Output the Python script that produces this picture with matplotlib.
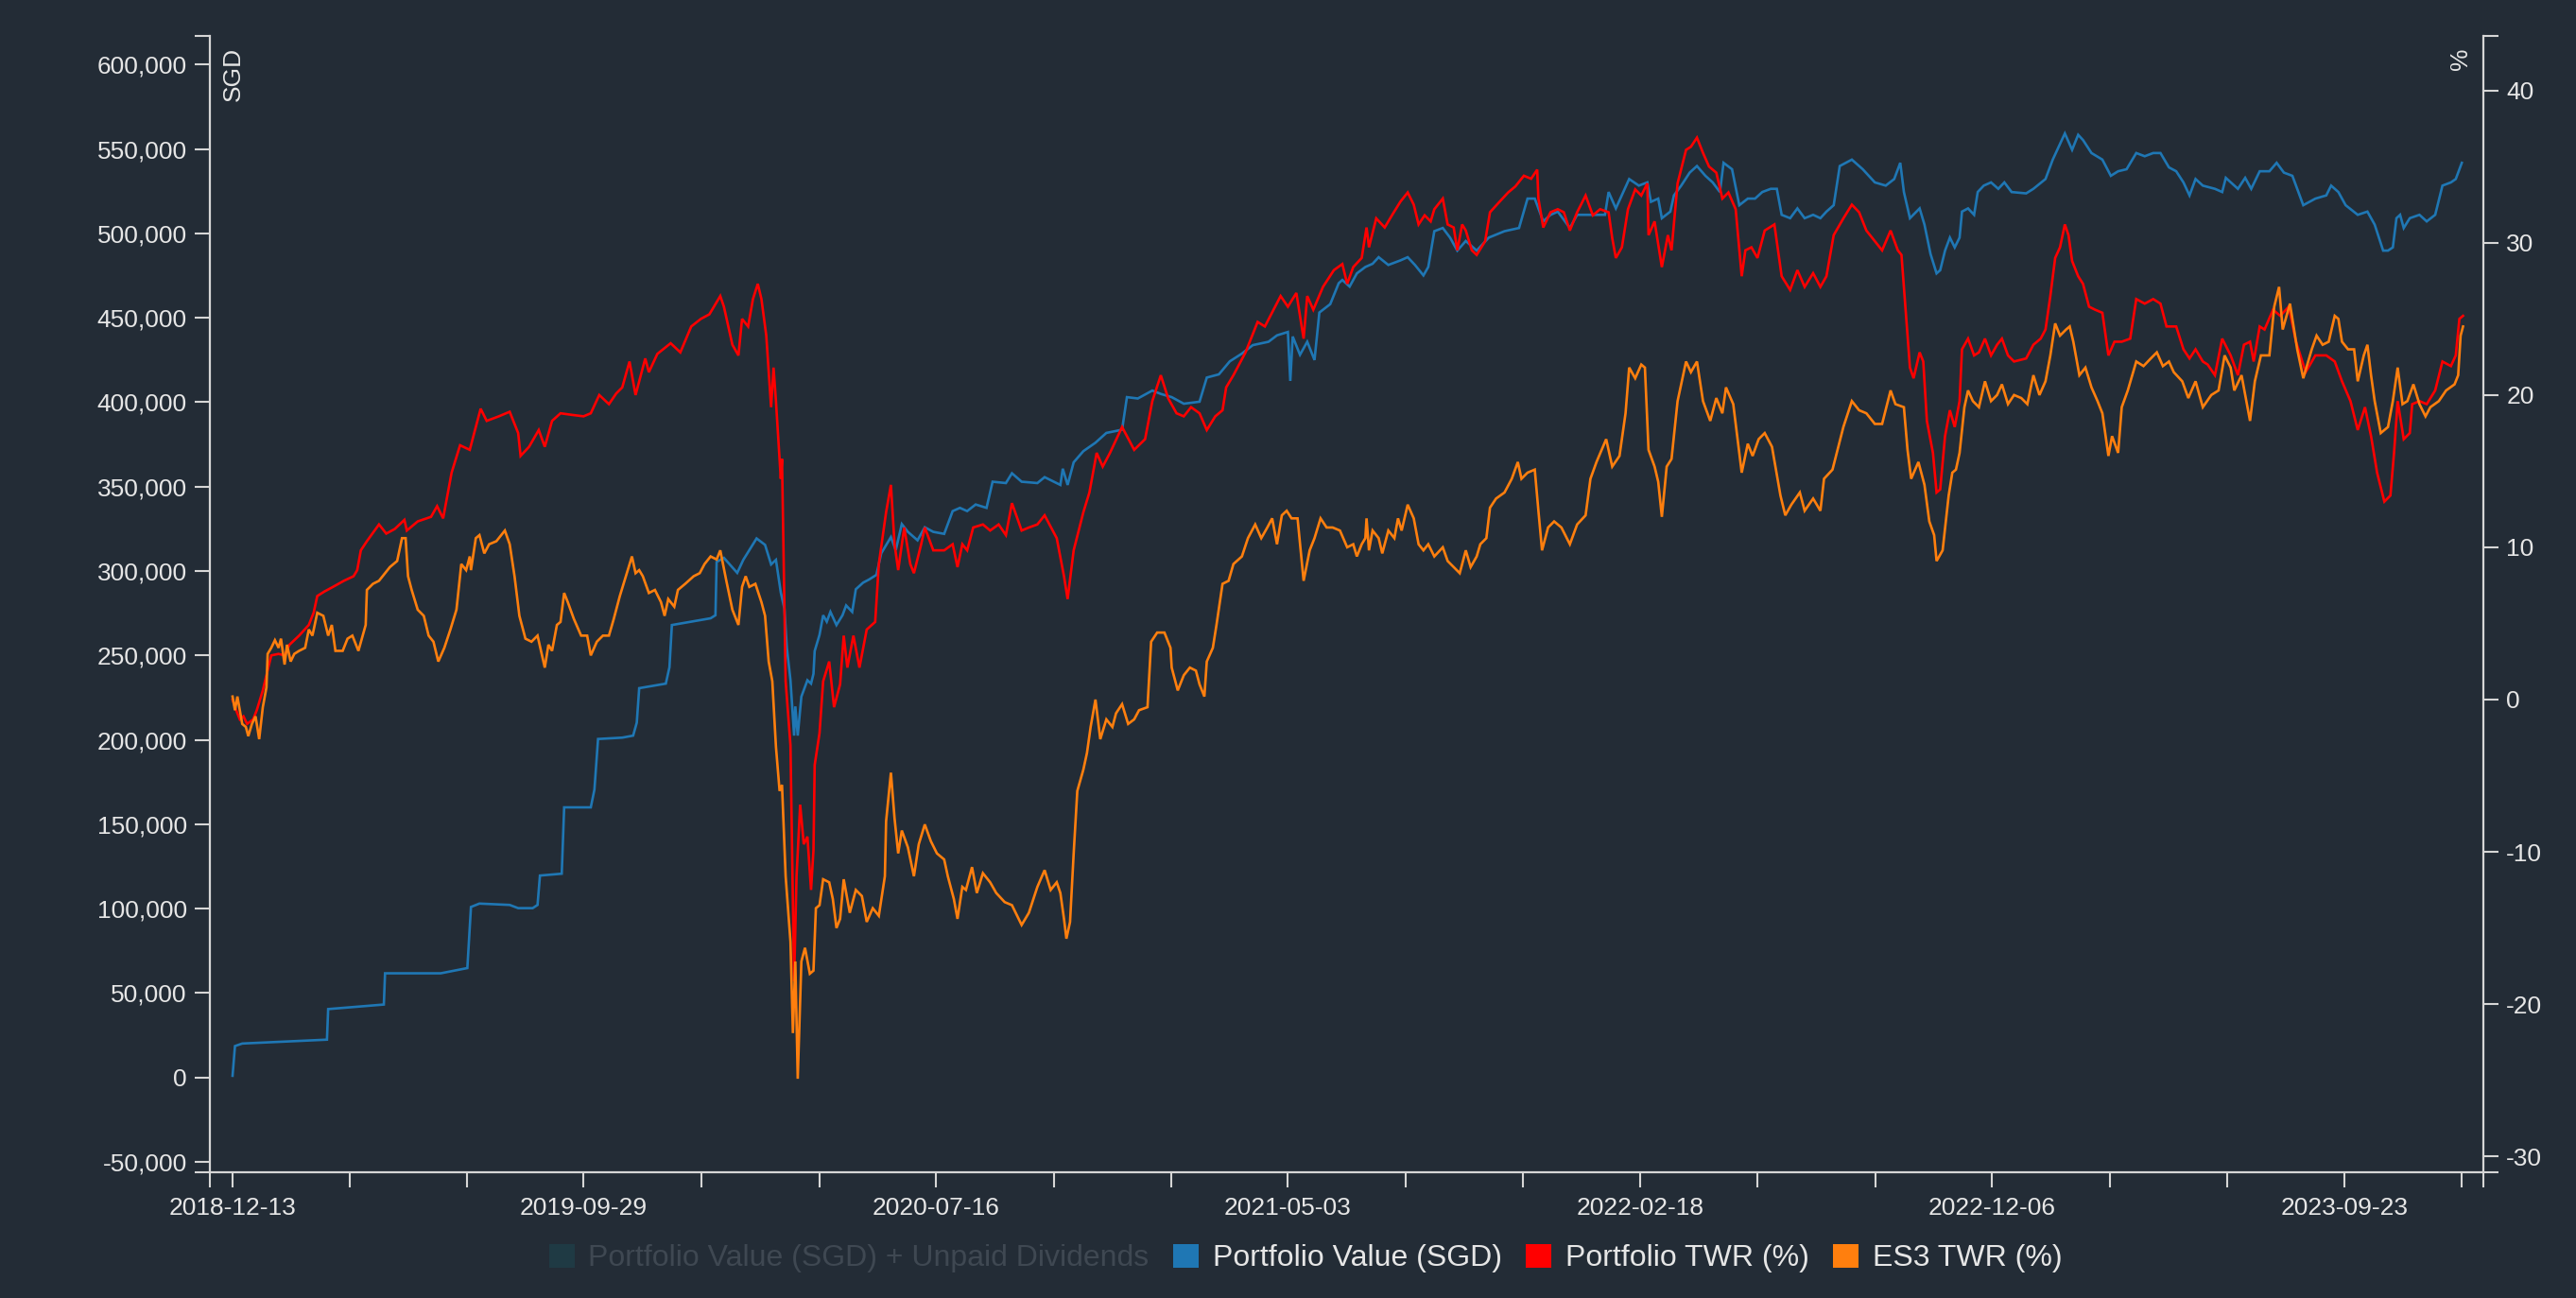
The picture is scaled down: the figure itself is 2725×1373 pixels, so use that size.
import numpy as np
import pandas as pd
import matplotlib
matplotlib.use("Agg")
import matplotlib.pyplot as plt
import matplotlib.ticker as mticker
from matplotlib.patches import Patch

plt.rcParams['font.family'] = ['Liberation Sans', 'DejaVu Sans']

start = pd.Timestamp('2018-12-13')

# Portfolio Value (SGD): days since start, value
value_days = [0, 2, 8, 78, 79, 125, 126, 172, 194, 197, 204, 229, 236, 248, 252, 254, 272, 274, 296, 299,
              302, 322, 331, 334, 336, 358, 361, 363, 395, 399, 400, 406, 417, 422, 427, 433, 440, 445, 449, 453,
              456, 458, 461, 464, 465, 467, 470, 475, 478, 480, 481, 485, 488, 491, 494, 499, 504, 507, 512, 515,
              521, 526, 532, 536, 544, 548, 553, 558, 566, 572, 579, 588, 595, 601, 607, 614, 623, 628, 639, 644,
              652, 665, 671, 684, 686, 690, 695, 703, 713, 722, 735, 739, 748, 760, 767, 776, 786, 799, 805, 815,
              824, 834, 843, 856, 863, 872, 874, 876, 882, 888, 894, 898, 907, 914, 917, 923, 929, 936, 942, 947,
              955, 965, 971, 977, 984, 988, 993, 1000, 1006, 1012, 1019, 1028, 1038, 1051, 1063, 1070, 1076, 1083, 1089, 1095,
              1105, 1111, 1121, 1134, 1137, 1143, 1154, 1162, 1169, 1172, 1178, 1181, 1188, 1191, 1197, 1204, 1210, 1217, 1223, 1229,
              1232, 1239, 1245, 1252, 1258, 1264, 1271, 1276, 1280, 1287, 1293, 1299, 1306, 1312, 1317, 1323, 1328, 1338, 1347, 1357,
              1366, 1373, 1378, 1381, 1386, 1394, 1398, 1403, 1408, 1411, 1415, 1419, 1423, 1427, 1429, 1434, 1439, 1442, 1447, 1453,
              1459, 1464, 1470, 1482, 1488, 1498, 1504, 1514, 1520, 1525, 1529, 1536, 1545, 1552, 1558, 1565, 1573, 1580, 1587, 1593,
              1600, 1606, 1612, 1617, 1622, 1628, 1638, 1644, 1647, 1654, 1657, 1663, 1668, 1675, 1683, 1689, 1695, 1702, 1711, 1721,
              1730, 1734, 1740, 1746, 1756, 1764, 1770, 1777, 1781, 1785, 1788, 1791, 1794, 1799, 1807, 1813, 1820, 1826, 1833, 1837,
              1839, 1842]
value_sgd = [1000, 18600, 20100, 22400, 40500, 43200, 61700, 61700, 64800, 101000, 103000, 102200, 100300, 100300, 102200, 119600, 120700, 160000, 160000, 170500,
             200500, 201300, 202500, 210200, 230600, 233300, 243000, 268000, 272000, 273800, 305400, 307800, 298900, 306600, 312400, 319300, 315500, 303900, 306600, 287300,
             277700, 254500, 235300, 202500, 219800, 202500, 225600, 235300, 233300, 239100, 252600, 262200, 273800, 270000, 275800, 268000, 273800, 279600, 275800, 289200,
             293100, 295000, 297700, 310500, 320100, 312400, 327800, 323200, 318200, 325900, 323200, 322000, 335500, 337400, 335500, 339400, 337400, 352900, 352100, 357900,
             352900, 352100, 355600, 351000, 360600, 351000, 364400, 371000, 376000, 381800, 383700, 403000, 402200, 406900, 404900, 403000, 399100, 400300, 414600, 416500,
             424200, 428800, 433800, 435800, 439600, 441600, 412600, 438900, 428100, 435800, 425000, 453100, 458100, 470500, 472400, 468500, 476300, 480100, 482000, 485900,
             481300, 484000, 485900, 481300, 475100, 480100, 501300, 503200, 497500, 489800, 495500, 489800, 497500, 501300, 503200, 520600, 520600, 507100, 511000, 512900,
             503200, 511000, 511000, 511000, 524500, 514800, 532200, 528300, 530200, 518700, 520600, 509000, 512900, 522500, 528300, 536000, 539900, 534100, 530200, 524500,
             541800, 538000, 516700, 520600, 520600, 524500, 526400, 526400, 511000, 509000, 514800, 509000, 511000, 509000, 512900, 516700, 539900, 543700, 538000, 530200,
             528300, 532200, 541800, 524500, 509000, 514800, 505200, 487800, 476300, 478200, 489800, 497500, 491700, 497500, 512900, 514800, 511000, 524500, 528300, 530200,
             526400, 530200, 524500, 523700, 526400, 532200, 543700, 559200, 549500, 558400, 555300, 547600, 543700, 534100, 536800, 538000, 547600, 545700, 547600, 547600,
             539100, 536800, 530200, 522500, 532200, 528300, 526400, 524500, 532900, 528300, 526400, 532900, 526400, 536800, 536800, 541800, 536000, 534100, 516700, 520600,
             522500, 528300, 524500, 516700, 511000, 512900, 505200, 489800, 489800, 491700, 509000, 511000, 503200, 509000, 511000, 507100, 511000, 528300, 530200, 532200,
             536000, 541800]

# Portfolio TWR (%)
twr_days = [0, 3, 6, 9, 12, 17, 20, 25, 28, 32, 38, 43, 47, 55, 63, 67, 70, 76, 83, 92,
            100, 103, 106, 111, 121, 127, 134, 142, 144, 153, 164, 169, 174, 177, 181, 188, 196, 201, 205, 210,
            220, 229, 236, 238, 245, 253, 258, 264, 271, 280, 290, 296, 303, 311, 317, 322, 328, 333, 341, 344,
            351, 362, 370, 379, 387, 394, 403, 406, 413, 418, 421, 426, 430, 434, 437, 441, 445, 447, 449, 453,
            454, 457, 461, 464, 466, 469, 472, 475, 478, 480, 481, 485, 488, 493, 497, 502, 505, 508, 513, 518,
            524, 531, 534, 540, 544, 547, 550, 555, 560, 563, 569, 572, 579, 588, 595, 599, 603, 607, 612, 620,
            626, 633, 639, 644, 652, 658, 665, 671, 681, 687, 690, 695, 703, 708, 714, 719, 725, 735, 745, 754,
            760, 767, 773, 780, 786, 792, 799, 805, 812, 818, 821, 827, 837, 847, 853, 866, 872, 879, 885, 888,
            893, 901, 910, 917, 921, 926, 933, 937, 939, 945, 952, 958, 965, 971, 976, 980, 985, 990, 993, 1000,
            1004, 1009, 1012, 1016, 1019, 1024, 1028, 1035, 1039, 1047, 1054, 1060, 1067, 1073, 1078, 1079, 1083, 1089, 1095, 1100,
            1105, 1111, 1118, 1124, 1130, 1137, 1140, 1143, 1148, 1153, 1159, 1164, 1169, 1170, 1175, 1181, 1186, 1189, 1194, 1201,
            1205, 1210, 1215, 1220, 1226, 1231, 1236, 1242, 1247, 1250, 1255, 1260, 1266, 1274, 1280, 1287, 1293, 1299, 1306, 1312,
            1317, 1323, 1331, 1338, 1344, 1350, 1357, 1363, 1370, 1376, 1379, 1382, 1386, 1389, 1394, 1397, 1400, 1405, 1408, 1411,
            1415, 1419, 1423, 1427, 1429, 1434, 1439, 1443, 1448, 1453, 1458, 1462, 1467, 1472, 1482, 1488, 1494, 1498, 1502, 1506,
            1510, 1514, 1517, 1520, 1525, 1529, 1534, 1539, 1545, 1550, 1555, 1561, 1568, 1573, 1580, 1587, 1593, 1598, 1606, 1612,
            1617, 1622, 1628, 1632, 1638, 1644, 1651, 1657, 1662, 1667, 1670, 1675, 1679, 1686, 1692, 1699, 1705, 1713, 1721, 1730,
            1737, 1743, 1750, 1756, 1762, 1767, 1772, 1778, 1783, 1786, 1789, 1794, 1799, 1801, 1807, 1813, 1820, 1826, 1833, 1837,
            1840, 1843]
twr_pct = [0.0, -0.7, -1.3, -1.1, -1.6, -1.3, -0.7, 0.6, 1.6, 2.9, 3.0, 2.9, 3.6, 4.2, 4.9, 5.7, 6.8, 7.1, 7.4, 7.8,
           8.1, 8.5, 9.8, 10.4, 11.5, 10.9, 11.2, 11.8, 11.1, 11.7, 12.0, 12.7, 11.9, 13.2, 14.9, 16.7, 16.4, 17.9, 19.1, 18.3,
           18.6, 18.9, 17.5, 16.0, 16.6, 17.7, 16.6, 18.3, 18.8, 18.7, 18.6, 18.8, 20.0, 19.4, 20.1, 20.5, 22.2, 20.0, 22.4, 21.5,
           22.7, 23.4, 22.8, 24.5, 25.0, 25.3, 26.5, 25.8, 23.3, 22.6, 25.0, 24.5, 26.3, 27.3, 26.3, 23.9, 19.2, 21.8, 19.6, 14.5,
           15.8, 1.2, -3.0, -18.5, -11.6, -6.9, -9.5, -9.0, -12.5, -9.9, -4.3, -2.2, 1.2, 2.5, -0.5, 1.0, 4.2, 2.1, 4.2, 2.1,
           4.6, 5.1, 8.9, 12.3, 14.1, 10.2, 8.5, 11.3, 8.9, 8.3, 10.2, 11.3, 9.8, 9.8, 10.2, 8.7, 10.2, 9.8, 11.3, 11.5,
           11.1, 11.5, 10.8, 12.9, 11.1, 11.3, 11.5, 12.1, 10.6, 8.1, 6.6, 9.8, 12.3, 13.6, 16.2, 15.3, 16.2, 17.9, 16.4, 17.1,
           19.6, 21.3, 19.8, 18.8, 18.6, 19.2, 18.8, 17.7, 18.6, 19.0, 20.5, 21.3, 22.8, 24.8, 24.5, 26.5, 25.8, 26.7, 23.7, 26.5,
           25.6, 27.1, 28.2, 28.6, 27.3, 28.4, 29.0, 31.0, 29.7, 31.6, 31.0, 31.8, 32.7, 33.3, 32.5, 31.2, 31.8, 31.4, 32.2, 32.9,
           31.2, 31.0, 29.5, 31.2, 30.8, 29.5, 29.2, 30.1, 32.0, 32.7, 33.3, 33.7, 34.4, 34.2, 34.8, 32.9, 31.0, 32.0, 32.2, 32.0,
           30.8, 32.0, 33.1, 31.8, 32.2, 32.0, 30.3, 29.0, 29.7, 32.2, 33.5, 33.1, 33.9, 30.5, 31.4, 28.4, 30.5, 29.5, 33.9, 36.1,
           36.3, 36.9, 35.9, 35.0, 34.6, 32.9, 33.3, 32.2, 27.8, 29.5, 29.7, 29.0, 30.8, 31.2, 27.8, 26.9, 28.2, 27.1, 28.0, 27.1,
           27.8, 30.5, 31.6, 32.5, 32.0, 30.8, 30.1, 29.5, 30.8, 29.5, 29.2, 26.0, 21.8, 21.1, 22.8, 22.2, 18.3, 16.2, 13.6, 13.8,
           17.3, 19.0, 17.9, 19.6, 23.0, 23.7, 22.6, 22.8, 23.7, 22.6, 23.3, 23.7, 22.6, 22.2, 22.4, 23.3, 23.7, 24.3, 26.5, 29.0,
           29.7, 31.2, 30.5, 28.8, 27.8, 27.3, 25.8, 25.6, 25.4, 22.6, 23.5, 23.5, 23.7, 26.3, 26.0, 26.3, 26.0, 24.5, 24.5, 23.0,
           22.4, 23.0, 22.2, 22.0, 21.3, 23.7, 22.6, 21.3, 23.3, 23.5, 22.2, 24.5, 24.3, 25.6, 25.2, 25.8, 23.5, 21.5, 22.6, 22.6,
           22.2, 20.9, 19.6, 17.7, 19.2, 17.3, 14.9, 13.0, 13.4, 16.2, 19.6, 17.1, 17.5, 19.4, 19.6, 19.4, 20.3, 22.2, 21.9, 22.6,
           25.0, 25.2]

# ES3 TWR (%)
es3_days = [0, 2, 4, 8, 11, 13, 16, 19, 22, 25, 28, 29, 32, 35, 38, 40, 43, 45, 48, 51,
            55, 60, 63, 66, 70, 75, 79, 82, 85, 91, 95, 99, 104, 110, 111, 116, 121, 126, 130, 136,
            140, 143, 145, 148, 153, 158, 162, 166, 170, 175, 180, 185, 189, 193, 196, 197, 201, 204, 208, 212,
            218, 225, 229, 233, 237, 242, 247, 252, 258, 261, 264, 268, 271, 274, 277, 282, 288, 293, 296, 301,
            306, 311, 315, 320, 325, 330, 333, 336, 339, 344, 349, 354, 357, 360, 365, 368, 374, 381, 386, 390,
            395, 400, 403, 408, 413, 418, 421, 424, 427, 432, 437, 440, 443, 446, 449, 452, 454, 457, 461, 463,
            465, 467, 470, 473, 477, 480, 482, 485, 488, 493, 496, 499, 502, 505, 510, 515, 520, 524, 529, 534,
            539, 540, 544, 547, 550, 553, 558, 563, 567, 572, 577, 582, 588, 591, 596, 599, 603, 606, 611, 615,
            620, 626, 631, 638, 644, 652, 658, 665, 671, 676, 681, 684, 687, 689, 692, 695, 698, 703, 706, 709,
            713, 717, 722, 727, 730, 735, 740, 745, 749, 756, 759, 764, 770, 775, 776, 781, 786, 791, 796, 799,
            803, 805, 810, 813, 818, 823, 827, 834, 839, 845, 850, 855, 859, 863, 867, 871, 875, 880, 885, 890,
            894, 899, 904, 909, 915, 921, 926, 929, 933, 936, 937, 939, 942, 947, 950, 955, 960, 963, 966, 971,
            976, 980, 984, 988, 993, 1000, 1004, 1009, 1014, 1019, 1023, 1028, 1031, 1036, 1039, 1044, 1051, 1057, 1062, 1065,
            1070, 1076, 1079, 1082, 1087, 1092, 1098, 1105, 1111, 1118, 1122, 1127, 1135, 1140, 1146, 1151, 1154, 1159, 1164, 1167,
            1170, 1175, 1178, 1181, 1185, 1189, 1194, 1201, 1205, 1210, 1215, 1221, 1226, 1231, 1234, 1240, 1247, 1252, 1256, 1261,
            1266, 1272, 1279, 1283, 1288, 1295, 1299, 1306, 1312, 1315, 1322, 1331, 1338, 1344, 1350, 1357, 1363, 1370, 1374, 1381,
            1384, 1387, 1393, 1398, 1402, 1406, 1408, 1413, 1418, 1421, 1424, 1427, 1431, 1434, 1438, 1443, 1448, 1453, 1458, 1462,
            1467, 1472, 1478, 1483, 1488, 1493, 1498, 1502, 1506, 1510, 1515, 1518, 1521, 1526, 1531, 1536, 1541, 1545, 1550, 1553,
            1558, 1561, 1566, 1573, 1579, 1585, 1590, 1595, 1600, 1604, 1611, 1616, 1622, 1628, 1635, 1641, 1646, 1651, 1654, 1660,
            1667, 1671, 1676, 1683, 1687, 1691, 1694, 1700, 1706, 1711, 1718, 1722, 1727, 1732, 1737, 1740, 1743, 1748, 1753, 1756,
            1761, 1764, 1767, 1770, 1775, 1781, 1785, 1789, 1793, 1797, 1802, 1807, 1812, 1816, 1823, 1829, 1836, 1839, 1841, 1843]
es3_pct = [0.2, -0.7, 0.2, -1.6, -1.8, -2.4, -1.6, -1.1, -2.6, -0.5, 0.8, 3.0, 3.4, 3.9, 3.4, 4.0, 2.3, 3.6, 2.5, 3.0,
           3.2, 3.4, 4.6, 4.2, 5.7, 5.5, 4.2, 4.9, 3.2, 3.2, 4.0, 4.2, 3.2, 4.9, 7.2, 7.6, 7.8, 8.3, 8.7, 9.1,
           10.6, 10.6, 8.1, 7.2, 5.9, 5.5, 4.2, 3.8, 2.5, 3.4, 4.6, 5.9, 8.9, 8.5, 9.4, 8.5, 10.6, 10.8, 9.6, 10.2,
           10.4, 11.1, 10.2, 8.1, 5.5, 4.0, 3.8, 4.2, 2.1, 3.6, 3.2, 4.9, 5.1, 7.0, 6.4, 5.3, 4.2, 4.2, 2.9, 3.8,
           4.2, 4.2, 5.3, 6.8, 8.1, 9.4, 8.3, 8.5, 8.1, 7.0, 7.2, 6.4, 5.5, 6.6, 6.1, 7.2, 7.6, 8.1, 8.3, 8.9,
           9.4, 9.2, 9.8, 7.8, 5.9, 4.9, 7.4, 8.1, 7.4, 7.6, 6.4, 5.5, 2.5, 1.2, -3.1, -6.0, -5.6, -11.6, -15.9, -21.9,
           -17.2, -24.9, -17.2, -16.3, -18.0, -17.8, -13.7, -13.5, -11.8, -12.0, -13.1, -15.0, -14.4, -11.8, -14.0, -12.5, -12.9, -14.6, -13.7, -14.2,
           -11.6, -8.0, -4.8, -7.8, -10.1, -8.6, -9.7, -11.6, -9.5, -8.2, -9.3, -10.1, -10.5, -11.6, -13.1, -14.4, -12.3, -12.5, -11.0, -12.7,
           -11.4, -12.0, -12.7, -13.3, -13.5, -14.8, -14.0, -12.3, -11.2, -12.5, -12.0, -12.7, -14.4, -15.7, -14.6, -10.1, -6.0, -4.6, -3.5, -1.8,
           0.0, -2.6, -1.3, -1.8, -0.9, -0.3, -1.6, -1.3, -0.7, -0.5, 3.8, 4.4, 4.4, 3.4, 2.1, 0.6, 1.6, 2.1, 1.9, 1.0,
           0.2, 2.5, 3.4, 4.9, 7.6, 7.8, 8.9, 9.4, 10.6, 11.5, 10.6, 11.3, 11.9, 10.2, 12.1, 12.4, 11.9, 11.9, 7.8, 9.8,
           10.6, 11.9, 11.3, 11.3, 11.1, 10.0, 10.2, 9.4, 10.2, 10.6, 11.9, 9.8, 11.1, 10.6, 9.6, 11.1, 10.6, 11.9, 11.1, 12.8,
           11.9, 10.2, 9.8, 10.2, 9.4, 10.0, 9.1, 8.7, 8.3, 9.8, 8.7, 9.4, 10.2, 10.6, 12.6, 13.2, 13.6, 14.5, 15.6, 14.5,
           14.9, 15.1, 12.4, 9.8, 11.3, 11.7, 11.3, 10.2, 11.5, 12.1, 14.5, 15.6, 17.1, 15.3, 16.0, 18.8, 21.8, 21.1, 22.0, 21.8,
           16.4, 15.3, 14.3, 12.0, 15.3, 15.8, 19.6, 22.2, 21.5, 22.2, 19.6, 18.3, 19.8, 18.8, 20.5, 19.4, 14.9, 16.8, 16.0, 17.1,
           17.5, 16.6, 13.4, 12.1, 12.8, 13.6, 12.4, 13.2, 12.4, 14.5, 15.1, 17.9, 19.6, 19.0, 18.8, 18.1, 18.1, 20.3, 19.4, 19.2,
           16.4, 14.5, 15.6, 14.1, 11.7, 10.8, 9.1, 9.8, 13.4, 14.9, 15.1, 16.2, 19.2, 20.3, 19.6, 19.2, 20.9, 19.6, 20.0, 20.7,
           19.4, 20.0, 19.8, 19.4, 21.3, 20.0, 20.9, 22.6, 24.7, 23.9, 24.3, 24.5, 23.5, 21.3, 21.8, 20.5, 19.6, 18.8, 16.0, 17.3,
           16.2, 19.2, 20.3, 22.2, 21.9, 22.4, 22.8, 21.9, 22.2, 21.5, 20.9, 19.8, 20.9, 19.2, 20.0, 20.3, 22.6, 21.8, 20.3, 21.3,
           18.3, 20.9, 22.6, 22.6, 25.8, 27.1, 24.3, 26.0, 23.0, 21.1, 23.0, 23.9, 23.3, 23.5, 25.2, 25.0, 23.5, 23.0, 23.0, 20.9,
           22.6, 23.3, 21.3, 19.6, 17.5, 17.9, 19.6, 21.8, 19.4, 19.6, 20.7, 19.4, 18.6, 19.2, 19.6, 20.3, 20.7, 21.3, 23.9, 24.5]

tick_labels = ['2018-12-13', '2019-09-29', '2020-07-16', '2021-05-03', '2022-02-18', '2022-12-06', '2023-09-23']

legend_labels = ['Portfolio Value (SGD) + Unpaid Dividends', 'Portfolio Value (SGD)', 'Portfolio TWR (%)', 'ES3 TWR (%)']
legend_colors = ['#1f3a44', '#1f77b4', '#ff0000', '#ff7f0e']

bg = '#232c36'
fg = '#e6e6e6'
axis_col = '#d6d6d6'

def to_dates(days):
    return start + pd.to_timedelta(days, unit='D')

fig = plt.figure(figsize=(27.25, 13.73), dpi=100, facecolor=bg)
ax = fig.add_axes([222 / 2725, 1 - 1240 / 1373, 2405 / 2725, 1202 / 1373])
ax.set_facecolor(bg)
ax2 = ax.twinx()

ax.plot(to_dates(value_days), value_sgd, color='#1f77b4', lw=1.9, solid_joinstyle='miter')
ax2.plot(to_dates(twr_days), twr_pct, color='#ff0000', lw=1.9, solid_joinstyle='miter')
ax2.plot(to_dates(es3_days), es3_pct, color='#ff7f0e', lw=1.9, solid_joinstyle='miter')

ax.set_xlim(start - pd.Timedelta(days=18.75), start + pd.Timedelta(days=1859.8))
ax.set_ylim(-56160, 616970)
ax2.set_ylim(-31.04, 43.58)

# x ticks: labelled dates, with two unlabelled ticks between each pair
lab_dates = pd.to_datetime(tick_labels)
step = (lab_dates[-1] - lab_dates[0]) / (3 * (len(lab_dates) - 1))
all_ticks = [lab_dates[0] + step * i for i in range(3 * (len(lab_dates) - 1) + 2)]
ax.set_xticks(lab_dates)
ax.set_xticklabels(tick_labels)
minor_x = [t for i, t in enumerate(all_ticks) if i % 3 != 0] + list(ax.get_xlim())
ax.xaxis.set_minor_locator(mticker.FixedLocator([matplotlib.dates.date2num(t) if not isinstance(t, float) else t for t in minor_x]))

ax.yaxis.set_major_locator(mticker.MultipleLocator(50000))
ax.yaxis.set_major_formatter(mticker.FuncFormatter(lambda v, p: f'{int(round(v)):,}'))
ax.yaxis.set_minor_locator(mticker.FixedLocator(list(ax.get_ylim())))
ax2.yaxis.set_major_locator(mticker.MultipleLocator(10))
ax2.yaxis.set_major_formatter(mticker.FuncFormatter(lambda v, p: f'{int(round(v))}'))
ax2.yaxis.set_minor_locator(mticker.FixedLocator(list(ax2.get_ylim())))

for a in (ax, ax2):
    for s in a.spines.values():
        s.set_color(axis_col)
        s.set_linewidth(1.6)
    a.spines['top'].set_visible(False)
    a.tick_params(which='both', length=11.5, width=1.5, color=axis_col,
                  labelcolor=fg, labelsize=19, direction='out')
ax.tick_params(axis='x', pad=7)
ax.tick_params(axis='y', pad=6)
ax2.tick_params(axis='y', pad=6)
ax2.spines['left'].set_visible(False)
ax2.spines['bottom'].set_visible(False)
ax.spines['right'].set_visible(False)

ax.text(0.0104, 0.99, 'SGD', transform=ax.transAxes, rotation=90, ha='center', va='top',
        fontsize=19, color=fg)
ax2.text(0.990, 0.99, '%', transform=ax2.transAxes, rotation=90, ha='center', va='top',
         fontsize=19, color=fg)

handles = [Patch(facecolor=c, edgecolor='none') for c in legend_colors]
leg = fig.legend(handles, legend_labels, loc='center', bbox_to_anchor=(1381 / 2725, 1 - 1331 / 1373),
                 ncol=4, frameon=False, fontsize=23, handlelength=0.85, handleheight=0.85,
                 handletextpad=0.45, columnspacing=0.8)
for i, t in enumerate(leg.get_texts()):
    t.set_color('#3f4852' if i == 0 else fg)

fig.savefig('out.png', dpi=100, facecolor=bg)
